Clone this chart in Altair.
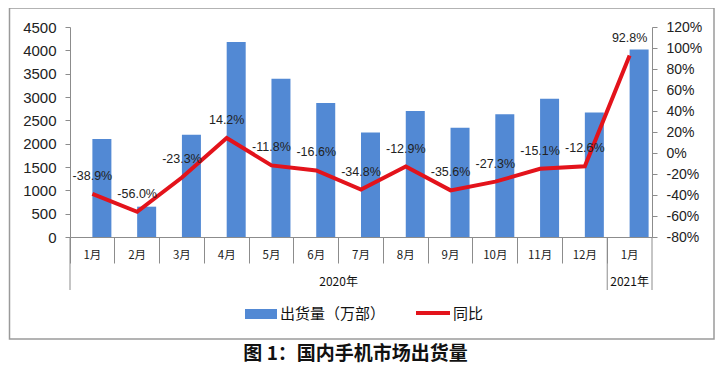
import altair as alt
import pandas as pd

# ---- data ----
periods = ["2020-1", "2020-2", "2020-3", "2020-4", "2020-5", "2020-6", "2020-7",
           "2020-8", "2020-9", "2020-10", "2020-11", "2020-12", "2021-1"]
shipments = [2100, 650, 2190, 4180, 3390, 2870, 2240, 2700, 2340, 2630, 2960, 2670, 4020]
yoy = [-38.9, -56.0, -23.3, 14.2, -11.8, -16.6, -34.8, -12.9, -35.6, -27.3, -15.1, -12.6, 92.8]
left_ticks = [0, 500, 1000, 1500, 2000, 2500, 3000, 3500, 4000, 4500]
right_ticks = [-80, -60, -40, -20, 0, 20, 40, 60, 80, 100, 120]
year_labels = ["2020年", "2021年"]
legend_labels = ["出货量（万部）", "同比"]
title_text = "图 1：国内手机市场出货量"

df = pd.DataFrame({
    "period": periods,
    "shipments": shipments,
    "yoy": yoy,
    "label": [f"{v:.1f}%" for v in yoy],
})

W, H = 582, 210
BAND = W / len(periods)
BLUE = "#5289D4"
RED = "#E3131B"
GRAY = "#8C8C8C"
FONT = "Liberation Sans"
CJK = "Noto Sans CJK SC"

xenc = alt.X("period:N", sort=None,
             scale=alt.Scale(paddingInner=0, paddingOuter=0),
             axis=alt.Axis(title=None, labelAngle=0, bandPosition=0, tickSize=26,
                           tickColor=GRAY, domainColor=GRAY, labelPadding=-14,
                           labelFontSize=11.5, labelFont=CJK, labelColor="#222",
                           labelExpr="split(datum.value, '-')[1] + '月'"))

base = alt.Chart(df)

bars = base.mark_bar(width=19, xOffset=9.5, color=BLUE).encode(
    x=xenc,
    y=alt.Y("shipments:Q", scale=alt.Scale(domain=[0, 4500], nice=False),
            axis=alt.Axis(title=None, orient="left", values=left_ticks, grid=False,
                          format="d",
                          domainColor=GRAY, tickColor=GRAY, tickSize=5,
                          labelFontSize=15, labelFont=FONT, labelColor="#222",
                          labelPadding=9)),
)

one = alt.Data(values=[{}])


def vrule(x, y1, y2):
    return alt.Chart(one).mark_rule(color=GRAY, strokeWidth=1).encode(
        x=alt.value(x), y=alt.value(y1), y2=alt.value(y2))


def label(text, x, y, size, font=CJK, weight="normal", align="center"):
    return alt.Chart(one).mark_text(text=text, fontSize=size, font=font, fontWeight=weight,
                                    align=align, baseline="middle", color="#111").encode(
        x=alt.value(x), y=alt.value(y))


deco = [
    vrule(0, H, 263),
    vrule(BAND * 12, H, 263),
    vrule(W, H, 263),
    label(year_labels[0], BAND * 6, 255, 12),
    label(year_labels[1], BAND * 12.5, 255, 12),
    # legend
    alt.Chart(one).mark_rect(color=BLUE).encode(
        x=alt.value(175), x2=alt.value(207), y=alt.value(282), y2=alt.value(292)),
    label(legend_labels[0], 210, 287, 15, align="left"),
    alt.Chart(one).mark_rule(color=RED, strokeWidth=4).encode(
        x=alt.value(346), x2=alt.value(380), y=alt.value(286)),
    label(legend_labels[1], 383, 287, 15, align="left"),
    # frame
    alt.Chart(one).mark_rect(fillOpacity=0, stroke="#9A9A9A", strokeWidth=1.5).encode(
        x=alt.value(-60.5), x2=alt.value(644), y=alt.value(-19), y2=alt.value(312)),
    label(title_text, 285.6, 327, 19, weight="bold"),
]

left_group = alt.layer(bars, *deco)

yr = alt.Y("yoy:Q", scale=alt.Scale(domain=[-80, 120], nice=False),
           axis=alt.Axis(title=None, orient="right", values=right_ticks, grid=False,
                         domainColor=GRAY, tickColor=GRAY, tickSize=5,
                         labelFontSize=14, labelFont=FONT, labelColor="#222",
                         labelPadding=9, labelExpr="datum.value + '%'"))

line = base.mark_line(color=RED, strokeWidth=4).encode(x=xenc, y=yr)
texts = base.mark_text(dy=-18, fontSize=12.5, font=FONT, color="#222").encode(
    x=xenc, y=yr, text="label:N")

right_group = alt.layer(line, texts)

chart = alt.layer(left_group, right_group).resolve_scale(y="independent").properties(
    width=W, height=H,
    autosize=alt.AutoSizeParams(type="none"),
    padding={"left": 62, "top": 19, "right": 66, "bottom": 128},
    background="white",
).configure_view(stroke=None)

chart.save("out.html", embed_options={"renderer": "svg", "actions": False})
